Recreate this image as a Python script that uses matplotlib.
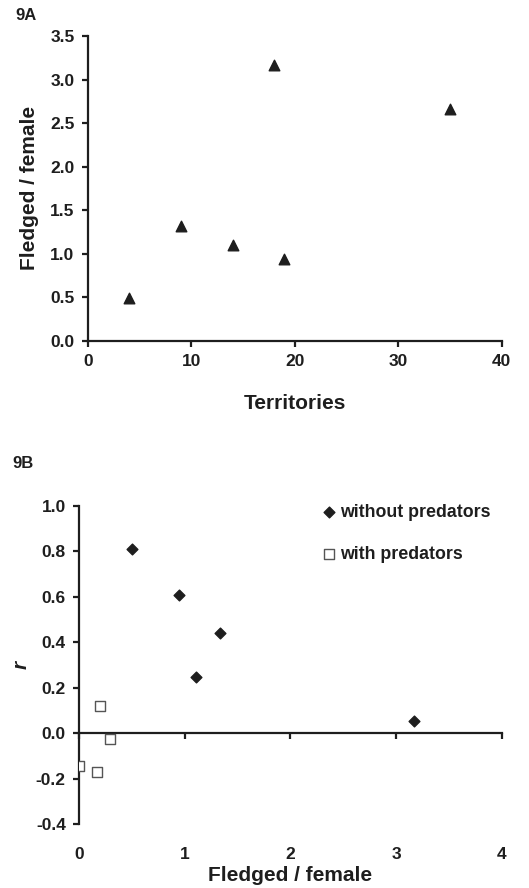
import numpy as np
import matplotlib
matplotlib.use("Agg")
import matplotlib.pyplot as plt
from matplotlib.ticker import FormatStrFormatter

# =========================
# DATA
# =========================
# 9A: territories vs fledged per female
territories = [4, 9, 14, 18, 19, 35]
fledged_a = [0.49, 1.32, 1.10, 3.17, 0.94, 2.66]

# 9B: r vs fledged per female
fledged_no_pred = [0.50, 0.95, 1.11, 1.33, 3.17]
r_no_pred = [0.81, 0.61, 0.25, 0.44, 0.055]
fledged_pred = [0.00, 0.17, 0.20, 0.29]
r_pred = [-0.145, -0.172, 0.12, -0.025]

a_xticks = [0, 10, 20, 30, 40]
a_yticks = [0.0, 0.5, 1.0, 1.5, 2.0, 2.5, 3.0, 3.5]
b_xticks = [0, 1, 2, 3, 4]
b_yticks = [-0.4, -0.2, 0.0, 0.2, 0.4, 0.6, 0.8, 1.0]

plt.rcParams["font.family"] = ["Liberation Sans", "DejaVu Sans"]
plt.rcParams["font.weight"] = "bold"
ink = "#1e1e1e"

fig = plt.figure(figsize=(5.29, 8.88), dpi=100)

# =========================
# PANEL 9A
# =========================
ax1 = fig.add_axes([0.1658, 0.6163, 0.7826, 0.3432])
ax1.scatter(territories, fledged_a, marker="^", s=58, color=ink, zorder=3)
ax1.set_xlim(0, 40)
ax1.set_ylim(0, 3.5)
ax1.set_xticks(a_xticks)
ax1.set_yticks(a_yticks)
ax1.yaxis.set_major_formatter(FormatStrFormatter("%.1f"))
ax1.set_xlabel("Territories", fontsize=15, fontweight="bold", labelpad=18, color=ink)
ax1.set_ylabel("Fledged / female", fontsize=15, fontweight="bold", labelpad=8, color=ink)

# =========================
# PANEL 9B
# =========================
ax2 = fig.add_axes([0.1493, 0.0717, 0.7996, 0.3585])
ax2.scatter(fledged_no_pred, r_no_pred, marker="D", s=30, color=ink, zorder=3,
            label="without predators")
ax2.scatter(fledged_pred, r_pred, marker="s", s=44, facecolor="white",
            edgecolor="#555555", linewidth=1.0, zorder=3, label="with predators")
ax2.set_xlim(0, 4)
ax2.set_ylim(-0.4, 1.0)
ax2.set_xticks(b_xticks)
ax2.set_yticks(b_yticks)
ax2.set_yticklabels([f"{v:.1f}" if abs(v) > 1e-9 else "0.0" for v in b_yticks])
ax2.spines["bottom"].set_position(("data", 0))
ax2.tick_params(axis="x", labelbottom=False)
ax2.set_ylabel("r", fontsize=15, fontweight="bold", fontstyle="italic", labelpad=4, color=ink)

sec = ax2.secondary_xaxis(0)
sec.set_xticks(b_xticks)
sec.spines["bottom"].set_visible(False)
sec.tick_params(axis="x", length=0, pad=16, labelsize=12.5, labelcolor=ink)
for lab in sec.get_xticklabels():
    lab.set_fontweight("bold")
sec.set_xlabel("Fledged / female", fontsize=15, fontweight="bold", labelpad=3, color=ink)

leg = ax2.legend(loc="upper left", bbox_to_anchor=(0.55, 1.03), frameon=False,
                 fontsize=12.8, handletextpad=0.0, labelspacing=1.42,
                 borderaxespad=0, handlelength=1.2)
for t in leg.get_texts():
    t.set_color(ink)
    t.set_fontweight("bold")

for ax in (ax1, ax2):
    for side in ("top", "right"):
        ax.spines[side].set_visible(False)
    for side in ("left", "bottom"):
        ax.spines[side].set_linewidth(1.6)
        ax.spines[side].set_color(ink)
    ax.tick_params(axis="both", direction="out", length=4.5, width=1.6,
                   labelsize=12.5, color=ink, labelcolor=ink, pad=5)
    for lab in ax.get_xticklabels() + ax.get_yticklabels():
        lab.set_fontweight("bold")

fig.text(0.03, 0.983, "9A", fontsize=12, fontweight="bold", color=ink, va="center")
fig.text(0.024, 0.478, "9B", fontsize=12, fontweight="bold", color=ink, va="center")

plt.savefig("out.png", dpi=100)
